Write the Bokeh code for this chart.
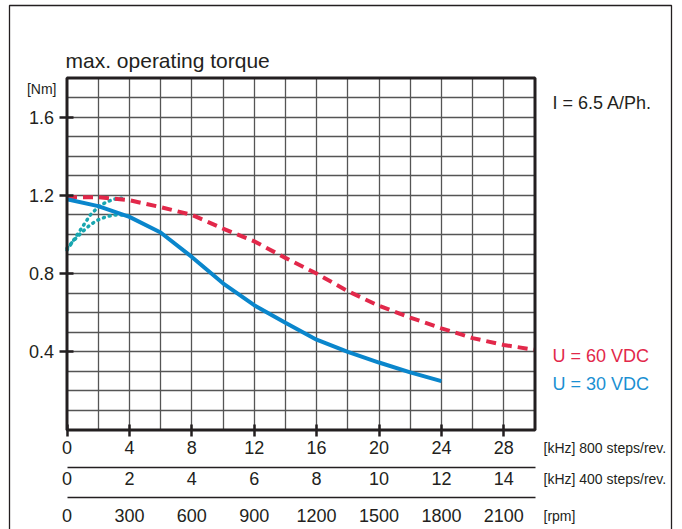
from bokeh.plotting import figure
from bokeh.models import Range1d, LinearAxis, FixedTicker, Label, Grid, BoxAnnotation
from bokeh.embed import file_html
from bokeh.resources import INLINE

# ---------------- data ----------------
# frequency in kHz at 800 steps/rev
freq_60v = [0, 2, 4, 6, 8, 10, 12, 14, 16, 18, 20, 22, 24, 26, 28, 30]
torque_60v = [1.19, 1.19, 1.175, 1.14, 1.10, 1.03, 0.965, 0.88, 0.80, 0.71,
              0.635, 0.575, 0.52, 0.47, 0.435, 0.41]

freq_30v = [0, 2, 4, 6, 8, 10, 12, 14, 16, 18, 20, 22, 24]
torque_30v = [1.18, 1.145, 1.09, 1.01, 0.885, 0.75, 0.638, 0.548, 0.462,
              0.40, 0.345, 0.295, 0.25]

freq_pull_a = [0, 0.5, 1.0, 1.5, 2.0, 2.5, 3.0, 3.5]
torque_pull_a = [0.92, 0.98, 1.04, 1.10, 1.14, 1.165, 1.18, 1.185]

freq_pull_b = [0, 0.5, 1.0, 1.5, 2.0, 2.5, 3.0, 3.5, 4.0]
torque_pull_b = [0.93, 0.975, 1.015, 1.05, 1.075, 1.09, 1.10, 1.10, 1.095]

ticks_800 = [0, 4, 8, 12, 16, 20, 24, 28]
ticks_400 = [0, 2, 4, 6, 8, 10, 12, 14]
ticks_rpm = [0, 300, 600, 900, 1200, 1500, 1800, 2100]
y_ticks = [0.4, 0.8, 1.2, 1.6]
grid_x = [2, 4, 6, 8, 10, 12, 14, 16, 18, 20, 22, 24, 26, 28]
grid_y = [0.1, 0.2, 0.3, 0.4, 0.5, 0.6, 0.7, 0.8, 0.9, 1.0, 1.1, 1.2,
          1.3, 1.4, 1.5, 1.6, 1.7]

title_text = "max. operating torque"
y_unit_text = "[Nm]"
current_text = "I = 6.5 A/Ph."
legend_60 = "U = 60 VDC"
legend_30 = "U = 30 VDC"
unit_800 = "[kHz] 800 steps/rev."
unit_400 = "[kHz] 400 steps/rev."
unit_rpm = "[rpm]"

# ---------------- styling / layout ----------------
RED = "#e2284a"
BLUE = "#0a86cc"
TEAL = "#19a6b0"
BLUE_TXT = "#1b90d2"
INK = "#231f20"
FONT = "Liberation Sans"

W, H = 682, 529
X_MAX, Y_MAX = 30, 1.8
PX_L, PX_R = 66.5, 534.5      # plot box left / right (screen px)
PX_T, PX_B = 77.5, 429.5      # plot box top / bottom (screen px)
SX = (PX_R - PX_L) / X_MAX
SY = (PX_B - PX_T) / Y_MAX


def dx(px):
    return (px - PX_L) / SX


def dy(py):
    return (PX_B - py) / SY


x0, x1 = dx(0), dx(W)
y0, y1 = dy(H), dy(0)
K400 = 0.5    # kHz at 400 steps/rev per kHz at 800 steps/rev
RPM = 75.0    # rpm per kHz at 800 steps/rev

p = figure(width=W, height=H, output_backend="svg", toolbar_location=None,
           x_range=Range1d(x0, x1), y_range=Range1d(y0, y1), title=None,
           x_axis_location=None, y_axis_location=None, min_border=0)
p.extra_x_ranges = {"k400": Range1d(x0 * K400, x1 * K400),
                    "rpm": Range1d(x0 * RPM, x1 * RPM)}
p.background_fill_color = "white"
p.border_fill_color = "white"
p.outline_line_color = None
p.grid.visible = False

# grid
has_cross = "cross_bounds" in Grid.properties()
xg = Grid(dimension=0, ticker=FixedTicker(ticks=grid_x), bounds=(0, X_MAX),
          grid_line_color="#555555", grid_line_width=1.3)
yg = Grid(dimension=1, ticker=FixedTicker(ticks=grid_y), bounds=(0, Y_MAX),
          grid_line_color="#555555", grid_line_width=1.3)
if has_cross:
    xg.cross_bounds = (0, Y_MAX)
    yg.cross_bounds = (0, X_MAX)
p.add_layout(xg)
p.add_layout(yg)
if not has_cross:
    for kw in (dict(right=0), dict(left=X_MAX), dict(bottom=Y_MAX), dict(top=0)):
        p.add_layout(BoxAnnotation(fill_color="white", fill_alpha=1,
                                   line_color=None, level="underlay", **kw))

# y axis
ya = LinearAxis(ticker=FixedTicker(ticks=y_ticks), fixed_location=0,
                bounds=(0, Y_MAX))
ya.axis_line_color = None
ya.major_tick_line_color = INK
ya.major_tick_line_width = 2.5
ya.major_tick_in = 6
ya.major_tick_out = 8
ya.minor_tick_line_color = None
ya.major_label_standoff = 5
ya.major_label_text_font = FONT
ya.major_label_text_font_size = "18px"
ya.major_label_text_color = INK
p.add_layout(ya, "left")


def make_xaxis(ticks, range_name, upper, loc, tick_len, standoff, line):
    ax = LinearAxis(ticker=FixedTicker(ticks=ticks), x_range_name=range_name,
                    fixed_location=loc, bounds=(0, upper))
    if line:
        ax.axis_line_color = INK
        ax.axis_line_width = 1.5
    else:
        ax.axis_line_color = None
    if tick_len:
        ax.major_tick_line_color = INK
        ax.major_tick_line_width = 2.5
        ax.major_tick_in = tick_len
        ax.major_tick_out = tick_len
    else:
        ax.major_tick_line_color = None
        ax.major_tick_in = 0
        ax.major_tick_out = 0
    ax.minor_tick_line_color = None
    ax.major_label_standoff = standoff
    ax.major_label_text_font = FONT
    ax.major_label_text_font_size = "18px"
    ax.major_label_text_color = INK
    return ax


p.add_layout(make_xaxis(ticks_800, "default", X_MAX, 0, 6, 5, False), "below")
p.add_layout(make_xaxis(ticks_400, "k400", X_MAX * K400, dy(467), 0, 4, True), "below")
p.add_layout(make_xaxis(ticks_rpm, "rpm", X_MAX * RPM, dy(497), 0, 11, True), "below")

# curves
p.line(freq_pull_a, torque_pull_a, line_color=TEAL, line_width=3.5,
       line_dash="1 5", line_cap="round")
p.line(freq_pull_b, torque_pull_b, line_color=TEAL, line_width=3.5,
       line_dash="1 5", line_cap="round")
p.line(freq_60v, torque_60v, line_color=RED, line_width=4, line_dash="10 6")
p.line(freq_30v, torque_30v, line_color=BLUE, line_width=4)

# plot box and outer frame
p.add_layout(BoxAnnotation(left=0, right=X_MAX, bottom=0, top=Y_MAX,
                           fill_color=None, line_color=INK, line_alpha=1,
                           line_width=3))
p.add_layout(BoxAnnotation(left=dx(9), right=dx(671), top=dy(5), bottom=dy(560),
                           fill_color=None, line_color=INK, line_alpha=1,
                           line_width=1.3))


# texts
def add_text(text, px, py, size, color=INK, align="left", baseline="middle"):
    p.add_layout(Label(x=dx(px), y=dy(py), text=text, text_font=FONT,
                       text_font_size=size, text_color=color,
                       text_align=align, text_baseline=baseline))


add_text(title_text, 65, 60, "21px")
add_text(y_unit_text, 56, 88, "14px", align="right")
add_text(current_text, 552, 102, "18px")
add_text(legend_60, 552, 355, "18px", color=RED)
add_text(legend_30, 552, 383, "18px", color=BLUE_TXT)
add_text(unit_800, 543, 447, "14px")
add_text(unit_400, 543, 478, "14px")
add_text(unit_rpm, 543, 515, "14px")

open("out.html", "w").write(file_html(p, INLINE))
